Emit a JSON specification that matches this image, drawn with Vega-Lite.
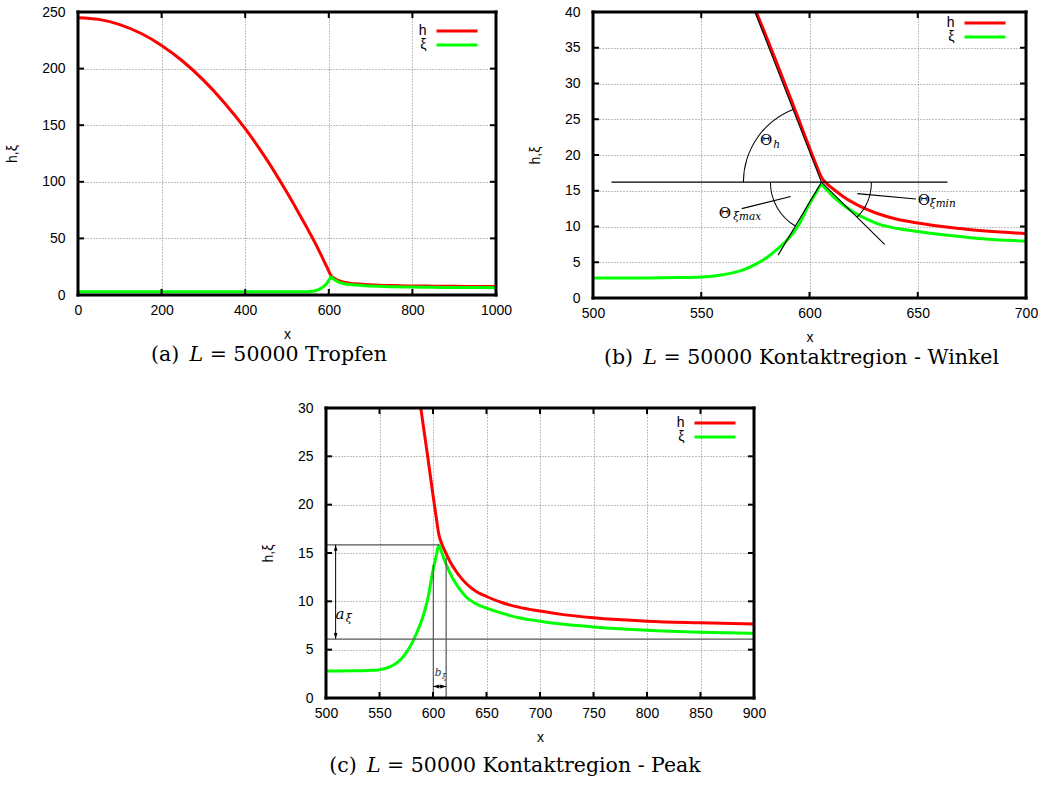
{
  "$schema": "https://vega.github.io/schema/vega-lite/v6.json",
  "background": "white",
  "padding": {"left": 5, "top": 5, "right": 5, "bottom": 5},
  "config": {
    "view": {"stroke": null},
    "axis": {
      "labelFont": "Liberation Sans", "labelFontSize": 14, "labelColor": "black",
      "titleFont": "Liberation Sans", "titleFontSize": 14, "titleFontWeight": "normal", "titleColor": "black",
      "domain": false, "ticks": false,
      "gridColor": "#808080", "gridDash": [1, 2], "gridWidth": 1, "gridOpacity": 1,
      "labelFlush": false, "labelOverlap": false, "format": "d"
    },
    "axisX": {"labelPadding": 8, "titlePadding": 10},
    "axisY": {"labelPadding": 13, "titlePadding": 22},
    "legend": {
      "labelFont": "Liberation Sans", "labelFontSize": 14, "labelColor": "black",
      "symbolType": "M-4,0H4", "symbolStrokeWidth": 3, "symbolSize": 105,
      "labelAlign": "right", "labelOffset": -37.5, "rowPadding": 0,
      "padding": 2, "orient": "none", "fillColor": "white"
    },
    "title": {"font": "DejaVu Serif", "fontSize": 20.5, "fontWeight": "normal", "color": "black", "orient": "bottom", "anchor": "middle", "frame": "group", "offset": 0}
  },
  "datasets": {
    "curve": [
      {"x": 0, "s": "h", "v": 245.0}, {"x": 0, "s": "ξ", "v": 2.8},
      {"x": 50, "s": "h", "v": 243.5}, {"x": 50, "s": "ξ", "v": 2.8},
      {"x": 100, "s": "h", "v": 238.9}, {"x": 100, "s": "ξ", "v": 2.8},
      {"x": 150, "s": "h", "v": 231.2}, {"x": 150, "s": "ξ", "v": 2.8},
      {"x": 200, "s": "h", "v": 220.5}, {"x": 200, "s": "ξ", "v": 2.8},
      {"x": 250, "s": "h", "v": 206.7}, {"x": 250, "s": "ξ", "v": 2.8},
      {"x": 300, "s": "h", "v": 189.8}, {"x": 300, "s": "ξ", "v": 2.8},
      {"x": 350, "s": "h", "v": 169.9}, {"x": 350, "s": "ξ", "v": 2.8},
      {"x": 400, "s": "h", "v": 146.9}, {"x": 400, "s": "ξ", "v": 2.8},
      {"x": 450, "s": "h", "v": 120.5}, {"x": 450, "s": "ξ", "v": 2.8},
      {"x": 500, "s": "h", "v": 90.5}, {"x": 500, "s": "ξ", "v": 2.8},
      {"x": 525, "s": "h", "v": 74.5}, {"x": 525, "s": "ξ", "v": 2.81},
      {"x": 540, "s": "h", "v": 64.5}, {"x": 540, "s": "ξ", "v": 2.85},
      {"x": 550, "s": "h", "v": 57.8}, {"x": 550, "s": "ξ", "v": 2.93},
      {"x": 555, "s": "h", "v": 54.4}, {"x": 555, "s": "ξ", "v": 3.05},
      {"x": 560, "s": "h", "v": 51.0}, {"x": 560, "s": "ξ", "v": 3.25},
      {"x": 565, "s": "h", "v": 47.6}, {"x": 565, "s": "ξ", "v": 3.55},
      {"x": 570, "s": "h", "v": 44.0}, {"x": 570, "s": "ξ", "v": 4.0},
      {"x": 575, "s": "h", "v": 40.3}, {"x": 575, "s": "ξ", "v": 4.7},
      {"x": 580, "s": "h", "v": 36.6}, {"x": 580, "s": "ξ", "v": 5.6},
      {"x": 585, "s": "h", "v": 32.8}, {"x": 585, "s": "ξ", "v": 6.8},
      {"x": 590, "s": "h", "v": 28.9}, {"x": 590, "s": "ξ", "v": 8.2},
      {"x": 595, "s": "h", "v": 25.0}, {"x": 595, "s": "ξ", "v": 10.2},
      {"x": 600, "s": "h", "v": 21.0}, {"x": 600, "s": "ξ", "v": 13.2},
      {"x": 603, "s": "h", "v": 18.7}, {"x": 603, "s": "ξ", "v": 14.7},
      {"x": 605.5, "s": "h", "v": 16.9}, {"x": 605.5, "s": "ξ", "v": 15.8},
      {"x": 608, "s": "h", "v": 16.0}, {"x": 608, "s": "ξ", "v": 15.1},
      {"x": 612, "s": "h", "v": 15.0}, {"x": 612, "s": "ξ", "v": 13.9},
      {"x": 616, "s": "h", "v": 14.1}, {"x": 616, "s": "ξ", "v": 12.9},
      {"x": 621, "s": "h", "v": 13.2}, {"x": 621, "s": "ξ", "v": 11.9},
      {"x": 626, "s": "h", "v": 12.45}, {"x": 626, "s": "ξ", "v": 11.1},
      {"x": 631, "s": "h", "v": 11.85}, {"x": 631, "s": "ξ", "v": 10.45},
      {"x": 640, "s": "h", "v": 11.05}, {"x": 640, "s": "ξ", "v": 9.75},
      {"x": 650, "s": "h", "v": 10.5}, {"x": 650, "s": "ξ", "v": 9.3},
      {"x": 665, "s": "h", "v": 9.85}, {"x": 665, "s": "ξ", "v": 8.75},
      {"x": 680, "s": "h", "v": 9.4}, {"x": 680, "s": "ξ", "v": 8.3},
      {"x": 700, "s": "h", "v": 9.0}, {"x": 700, "s": "ξ", "v": 7.95},
      {"x": 720, "s": "h", "v": 8.65}, {"x": 720, "s": "ξ", "v": 7.65},
      {"x": 750, "s": "h", "v": 8.3}, {"x": 750, "s": "ξ", "v": 7.35},
      {"x": 800, "s": "h", "v": 7.95}, {"x": 800, "s": "ξ", "v": 7.0},
      {"x": 850, "s": "h", "v": 7.78}, {"x": 850, "s": "ξ", "v": 6.8},
      {"x": 900, "s": "h", "v": 7.65}, {"x": 900, "s": "ξ", "v": 6.68},
      {"x": 950, "s": "h", "v": 7.55}, {"x": 950, "s": "ξ", "v": 6.58},
      {"x": 1000, "s": "h", "v": 7.5}, {"x": 1000, "s": "ξ", "v": 6.5}
    ]
  },
  "resolve": {"scale": {"color": "independent"}},
  "spacing": 32,
  "vconcat": [
    {
      "hconcat": [
        {
          "width": 418, "height": 283,
          "title": {"text": "(a)\u2002𝐿 = 50000 Tropfen", "dx": -18},
          "resolve": {"axis": {"x": "independent", "y": "independent"}},
          "layer": [
            {
              "data": {"name": "curve"},
              "mark": {"type": "line", "strokeWidth": 3, "clip": true, "strokeJoin": "round", "interpolate": "monotone"},
              "encoding": {
                "x": {"field": "x", "type": "quantitative", "scale": {"domain": [0, 1000], "nice": false, "zero": false},
                      "axis": {"values": [0, 200, 400, 600, 800, 1000], "title": "x", "grid": true}},
                "y": {"field": "v", "type": "quantitative", "scale": {"domain": [0, 250], "nice": false, "zero": false},
                      "axis": {"values": [0, 50, 100, 150, 200, 250], "title": "h,ξ", "grid": true}},
                "color": {"field": "s", "type": "nominal", "scale": {"domain": ["h", "ξ"], "range": ["#ff0000", "#00ff00"]},
                          "legend": {"title": null, "legendX": 370, "legendY": 10}}
              }
            },
            {
              "data": {"values": [{"t": 0}, {"t": 200}, {"t": 400}, {"t": 600}, {"t": 800}, {"t": 1000}]},
              "mark": {"type": "rule", "color": "black", "strokeWidth": 2},
              "encoding": {
                "x": {"field": "t", "type": "quantitative", "scale": {"domain": [0, 1000], "nice": false, "zero": false}, "axis": null},
                "y": {"datum": 0, "type": "quantitative", "scale": {"domain": [0, 250], "nice": false, "zero": false}, "axis": null},
                "y2": {"datum": 5.3}
              }
            },
            {
              "data": {"values": [{"t": 0}, {"t": 200}, {"t": 400}, {"t": 600}, {"t": 800}, {"t": 1000}]},
              "mark": {"type": "rule", "color": "black", "strokeWidth": 2},
              "encoding": {
                "x": {"field": "t", "type": "quantitative", "scale": {"domain": [0, 1000], "nice": false, "zero": false}, "axis": null},
                "y": {"datum": 250, "type": "quantitative", "scale": {"domain": [0, 250], "nice": false, "zero": false}, "axis": null},
                "y2": {"datum": 244.7}
              }
            },
            {
              "data": {"values": [{"t": 0}, {"t": 50}, {"t": 100}, {"t": 150}, {"t": 200}, {"t": 250}]},
              "mark": {"type": "rule", "color": "black", "strokeWidth": 2},
              "encoding": {
                "y": {"field": "t", "type": "quantitative", "scale": {"domain": [0, 250], "nice": false, "zero": false}, "axis": null},
                "x": {"datum": 0, "type": "quantitative", "scale": {"domain": [0, 1000], "nice": false, "zero": false}, "axis": null},
                "x2": {"datum": 14.4}
              }
            },
            {
              "data": {"values": [{"t": 0}, {"t": 50}, {"t": 100}, {"t": 150}, {"t": 200}, {"t": 250}]},
              "mark": {"type": "rule", "color": "black", "strokeWidth": 2},
              "encoding": {
                "y": {"field": "t", "type": "quantitative", "scale": {"domain": [0, 250], "nice": false, "zero": false}, "axis": null},
                "x": {"datum": 1000, "type": "quantitative", "scale": {"domain": [0, 1000], "nice": false, "zero": false}, "axis": null},
                "x2": {"datum": 985.6}
              }
            },
            {
              "data": {"values": [
                {"x": 0, "y": 0, "x2": 1000, "y2": 0},
                {"x": 0, "y": 250, "x2": 1000, "y2": 250},
                {"x": 0, "y": 0, "x2": 0, "y2": 250},
                {"x": 1000, "y": 0, "x2": 1000, "y2": 250}
              ]},
              "mark": {"type": "rule", "color": "black", "strokeWidth": 3, "strokeCap": "square"},
              "encoding": {
                "x": {"field": "x", "type": "quantitative", "scale": {"domain": [0, 1000], "nice": false, "zero": false}, "axis": null},
                "x2": {"field": "x2"},
                "y": {"field": "y", "type": "quantitative", "scale": {"domain": [0, 250], "nice": false, "zero": false}, "axis": null},
                "y2": {"field": "y2"}
              }
            }
          ]
        },
        {
          "width": 433, "height": 286,
          "title": {"text": "(b)\u2002𝐿 = 50000 Kontaktregion - Winkel", "dx": -8},
          "resolve": {"axis": {"x": "independent", "y": "independent"}},
          "layer": [
            {
              "data": {"name": "curve"},
              "mark": {"type": "line", "strokeWidth": 3, "clip": true, "strokeJoin": "round", "interpolate": "monotone"},
              "encoding": {
                "x": {"field": "x", "type": "quantitative", "scale": {"domain": [500, 700], "nice": false, "zero": false},
                      "axis": {"values": [500, 550, 600, 650, 700], "title": "x", "grid": true}},
                "y": {"field": "v", "type": "quantitative", "scale": {"domain": [0, 40], "nice": false, "zero": false},
                      "axis": {"values": [0, 5, 10, 15, 20, 25, 30, 35, 40], "title": "h,ξ", "grid": true}},
                "color": {"field": "s", "type": "nominal", "scale": {"domain": ["h", "ξ"], "range": ["#ff0000", "#00ff00"]},
                          "legend": {"title": null, "legendX": 383, "legendY": 2}}
              }
            },
            {
              "data": {"values": [
                {"x": 508.5, "y": 16.2, "x2": 663.7, "y2": 16.2},
                {"x": 574.8, "y": 40.0, "x2": 605.5, "y2": 16.2},
                {"x": 585.5, "y": 6.0, "x2": 605.5, "y2": 16.2},
                {"x": 605.5, "y": 16.2, "x2": 634.7, "y2": 7.5},
                {"x": 568.7, "y": 12.5, "x2": 591.3, "y2": 14.2},
                {"x": 622.1, "y": 14.6, "x2": 649.1, "y2": 13.85}
              ]},
              "mark": {"type": "rule", "color": "black", "strokeWidth": 1.1},
              "encoding": {
                "x": {"field": "x", "type": "quantitative", "scale": {"domain": [500, 700], "nice": false, "zero": false}, "axis": null},
                "x2": {"field": "x2"},
                "y": {"field": "y", "type": "quantitative", "scale": {"domain": [0, 40], "nice": false, "zero": false}, "axis": null},
                "y2": {"field": "y2"}
              }
            },
            {
              "data": {"values": [{"c": 0}]},
              "mark": {"type": "arc", "color": "black", "outerRadius": 78.5, "innerRadius": 77.5, "theta": 4.712, "theta2": 5.911},
              "encoding": {
                "x": {"datum": 605.5, "type": "quantitative", "scale": {"domain": [500, 700], "nice": false, "zero": false}, "axis": null},
                "y": {"datum": 16.2, "type": "quantitative", "scale": {"domain": [0, 40], "nice": false, "zero": false}, "axis": null}
              }
            },
            {
              "data": {"values": [{"c": 0}]},
              "mark": {"type": "arc", "color": "black", "outerRadius": 51.5, "innerRadius": 50.5, "theta": 3.677, "theta2": 4.712},
              "encoding": {
                "x": {"datum": 605.5, "type": "quantitative", "scale": {"domain": [500, 700], "nice": false, "zero": false}, "axis": null},
                "y": {"datum": 16.2, "type": "quantitative", "scale": {"domain": [0, 40], "nice": false, "zero": false}, "axis": null}
              }
            },
            {
              "data": {"values": [{"c": 0}]},
              "mark": {"type": "arc", "color": "black", "outerRadius": 50.5, "innerRadius": 49.5, "theta": 1.571, "theta2": 2.347},
              "encoding": {
                "x": {"datum": 605.5, "type": "quantitative", "scale": {"domain": [500, 700], "nice": false, "zero": false}, "axis": null},
                "y": {"datum": 16.2, "type": "quantitative", "scale": {"domain": [0, 40], "nice": false, "zero": false}, "axis": null}
              }
            },
            {
              "data": {"values": [
                {"x": 580.0, "y": 22.1, "t": "Θ"},
                {"x": 560.9, "y": 11.85, "t": "Θ"},
                {"x": 652.9, "y": 13.7, "t": "Θ"}
              ]},
              "mark": {"type": "text", "font": "DejaVu Serif", "fontSize": 15, "color": "black", "align": "center", "baseline": "middle"},
              "encoding": {
                "x": {"field": "x", "type": "quantitative", "scale": {"domain": [500, 700], "nice": false, "zero": false}, "axis": null},
                "y": {"field": "y", "type": "quantitative", "scale": {"domain": [0, 40], "nice": false, "zero": false}, "axis": null},
                "text": {"field": "t"}
              }
            },
            {
              "data": {"values": [
                {"x": 583.3, "y": 21.4, "t": "h"},
                {"x": 564.8, "y": 11.3, "t": "ξmax"},
                {"x": 655.6, "y": 13.1, "t": "ξmin"}
              ]},
              "mark": {"type": "text", "font": "DejaVu Serif", "fontStyle": "italic", "fontSize": 10.5, "color": "black", "align": "left", "baseline": "middle"},
              "encoding": {
                "x": {"field": "x", "type": "quantitative", "scale": {"domain": [500, 700], "nice": false, "zero": false}, "axis": null},
                "y": {"field": "y", "type": "quantitative", "scale": {"domain": [0, 40], "nice": false, "zero": false}, "axis": null},
                "text": {"field": "t"}
              }
            },
            {
              "data": {"values": [{"t": 500}, {"t": 550}, {"t": 600}, {"t": 650}, {"t": 700}]},
              "mark": {"type": "rule", "color": "black", "strokeWidth": 2},
              "encoding": {
                "x": {"field": "t", "type": "quantitative", "scale": {"domain": [500, 700], "nice": false, "zero": false}, "axis": null},
                "y": {"datum": 0, "type": "quantitative", "scale": {"domain": [0, 40], "nice": false, "zero": false}, "axis": null},
                "y2": {"datum": 0.84}
              }
            },
            {
              "data": {"values": [{"t": 500}, {"t": 550}, {"t": 600}, {"t": 650}, {"t": 700}]},
              "mark": {"type": "rule", "color": "black", "strokeWidth": 2},
              "encoding": {
                "x": {"field": "t", "type": "quantitative", "scale": {"domain": [500, 700], "nice": false, "zero": false}, "axis": null},
                "y": {"datum": 40, "type": "quantitative", "scale": {"domain": [0, 40], "nice": false, "zero": false}, "axis": null},
                "y2": {"datum": 39.16}
              }
            },
            {
              "data": {"values": [{"t": 0}, {"t": 5}, {"t": 10}, {"t": 15}, {"t": 20}, {"t": 25}, {"t": 30}, {"t": 35}, {"t": 40}]},
              "mark": {"type": "rule", "color": "black", "strokeWidth": 2},
              "encoding": {
                "y": {"field": "t", "type": "quantitative", "scale": {"domain": [0, 40], "nice": false, "zero": false}, "axis": null},
                "x": {"datum": 500, "type": "quantitative", "scale": {"domain": [500, 700], "nice": false, "zero": false}, "axis": null},
                "x2": {"datum": 502.77}
              }
            },
            {
              "data": {"values": [{"t": 0}, {"t": 5}, {"t": 10}, {"t": 15}, {"t": 20}, {"t": 25}, {"t": 30}, {"t": 35}, {"t": 40}]},
              "mark": {"type": "rule", "color": "black", "strokeWidth": 2},
              "encoding": {
                "y": {"field": "t", "type": "quantitative", "scale": {"domain": [0, 40], "nice": false, "zero": false}, "axis": null},
                "x": {"datum": 700, "type": "quantitative", "scale": {"domain": [500, 700], "nice": false, "zero": false}, "axis": null},
                "x2": {"datum": 697.23}
              }
            },
            {
              "data": {"values": [
                {"x": 500, "y": 0, "x2": 700, "y2": 0},
                {"x": 500, "y": 40, "x2": 700, "y2": 40},
                {"x": 500, "y": 0, "x2": 500, "y2": 40},
                {"x": 700, "y": 0, "x2": 700, "y2": 40}
              ]},
              "mark": {"type": "rule", "color": "black", "strokeWidth": 3, "strokeCap": "square"},
              "encoding": {
                "x": {"field": "x", "type": "quantitative", "scale": {"domain": [500, 700], "nice": false, "zero": false}, "axis": null},
                "x2": {"field": "x2"},
                "y": {"field": "y", "type": "quantitative", "scale": {"domain": [0, 40], "nice": false, "zero": false}, "axis": null},
                "y2": {"field": "y2"}
              }
            }
          ]
        }
      ],
      "spacing": 16,
      "resolve": {"scale": {"color": "independent"}}
    },
    {
      "hconcat": [
        {
          "width": 183, "height": 10,
          "data": {"values": [{"c": 0}]},
          "mark": {"type": "point", "opacity": 0}
        },
        {
          "width": 428, "height": 290,
          "title": {"text": "(c)\u2002𝐿 = 50000 Kontaktregion - Peak", "dx": -25, "offset": 12},
          "resolve": {"axis": {"x": "independent", "y": "independent"}},
          "layer": [
            {
              "data": {"name": "curve"},
              "mark": {"type": "line", "strokeWidth": 3, "clip": true, "strokeJoin": "round", "interpolate": "monotone"},
              "encoding": {
                "x": {"field": "x", "type": "quantitative", "scale": {"domain": [500, 900], "nice": false, "zero": false},
                      "axis": {"values": [500, 550, 600, 650, 700, 750, 800, 850, 900], "title": "x", "grid": true}},
                "y": {"field": "v", "type": "quantitative", "scale": {"domain": [0, 30], "nice": false, "zero": false},
                      "axis": {"values": [0, 5, 10, 15, 20, 25, 30], "title": "h,ξ", "grid": true}},
                "color": {"field": "s", "type": "nominal", "scale": {"domain": ["h", "ξ"], "range": ["#ff0000", "#00ff00"]},
                          "legend": {"title": null, "legendX": 380, "legendY": 6}}
              }
            },
            {
              "data": {"values": [
                {"x": 500, "y": 15.85, "x2": 605.5, "y2": 15.85},
                {"x": 500, "y": 6.1, "x2": 900, "y2": 6.1},
                {"x": 600.3, "y": 0, "x2": 600.3, "y2": 13.8},
                {"x": 612.3, "y": 0, "x2": 612.3, "y2": 14.5}
              ]},
              "mark": {"type": "rule", "color": "#555555", "strokeWidth": 1.2},
              "encoding": {
                "x": {"field": "x", "type": "quantitative", "scale": {"domain": [500, 900], "nice": false, "zero": false}, "axis": null},
                "x2": {"field": "x2"},
                "y": {"field": "y", "type": "quantitative", "scale": {"domain": [0, 30], "nice": false, "zero": false}, "axis": null},
                "y2": {"field": "y2"}
              }
            },
            {
              "data": {"values": [
                {"x": 509, "y": 6.1, "x2": 509, "y2": 15.85},
                {"x": 600.3, "y": 1.2, "x2": 612.3, "y2": 1.2}
              ]},
              "mark": {"type": "rule", "color": "black", "strokeWidth": 1},
              "encoding": {
                "x": {"field": "x", "type": "quantitative", "scale": {"domain": [500, 900], "nice": false, "zero": false}, "axis": null},
                "x2": {"field": "x2"},
                "y": {"field": "y", "type": "quantitative", "scale": {"domain": [0, 30], "nice": false, "zero": false}, "axis": null},
                "y2": {"field": "y2"}
              }
            },
            {
              "data": {"values": [
                {"x": 509, "y": 15.85, "dir": "up"},
                {"x": 509, "y": 6.1, "dir": "down"},
                {"x": 600.3, "y": 1.2, "dir": "left"},
                {"x": 612.3, "y": 1.2, "dir": "right"}
              ]},
              "mark": {"type": "point", "filled": true, "color": "black", "opacity": 1, "strokeWidth": 0},
              "encoding": {
                "x": {"field": "x", "type": "quantitative", "scale": {"domain": [500, 900], "nice": false, "zero": false}, "axis": null},
                "y": {"field": "y", "type": "quantitative", "scale": {"domain": [0, 30], "nice": false, "zero": false}, "axis": null},
                "shape": {"field": "dir", "type": "nominal", "legend": null,
                          "scale": {"domain": ["up", "down", "left", "right"],
                                    "range": ["M0,0L-0.35,1.2L0.35,1.2Z", "M0,0L-0.35,-1.2L0.35,-1.2Z", "M0,0L1.2,-0.4L1.2,0.4Z", "M0,0L-1.2,-0.4L-1.2,0.4Z"]}},
                "size": {"field": "dir", "type": "nominal", "legend": null,
                         "scale": {"domain": ["up", "down", "left", "right"], "range": [100, 100, 40, 40]}}
              }
            },
            {
              "data": {"values": [{"x": 513, "y": 8.65, "t": "a"}]},
              "mark": {"type": "text", "font": "DejaVu Serif", "fontStyle": "italic", "fontSize": 15, "color": "black", "align": "center", "baseline": "middle"},
              "encoding": {
                "x": {"field": "x", "type": "quantitative", "scale": {"domain": [500, 900], "nice": false, "zero": false}, "axis": null},
                "y": {"field": "y", "type": "quantitative", "scale": {"domain": [0, 30], "nice": false, "zero": false}, "axis": null},
                "text": {"field": "t"}
              }
            },
            {
              "data": {"values": [{"x": 521.4, "y": 8.2, "t": "ξ"}]},
              "mark": {"type": "text", "font": "DejaVu Serif", "fontStyle": "italic", "fontSize": 11, "color": "black", "align": "center", "baseline": "middle"},
              "encoding": {
                "x": {"field": "x", "type": "quantitative", "scale": {"domain": [500, 900], "nice": false, "zero": false}, "axis": null},
                "y": {"field": "y", "type": "quantitative", "scale": {"domain": [0, 30], "nice": false, "zero": false}, "axis": null},
                "text": {"field": "t"}
              }
            },
            {
              "data": {"values": [{"x": 604.7, "y": 2.6, "t": "b"}]},
              "mark": {"type": "text", "font": "DejaVu Serif", "fontStyle": "italic", "fontSize": 10.5, "color": "#333333", "align": "center", "baseline": "middle"},
              "encoding": {
                "x": {"field": "x", "type": "quantitative", "scale": {"domain": [500, 900], "nice": false, "zero": false}, "axis": null},
                "y": {"field": "y", "type": "quantitative", "scale": {"domain": [0, 30], "nice": false, "zero": false}, "axis": null},
                "text": {"field": "t"}
              }
            },
            {
              "data": {"values": [{"x": 610.4, "y": 2.2, "t": "ξ"}]},
              "mark": {"type": "text", "font": "DejaVu Serif", "fontStyle": "italic", "fontSize": 8, "color": "#333333", "align": "center", "baseline": "middle"},
              "encoding": {
                "x": {"field": "x", "type": "quantitative", "scale": {"domain": [500, 900], "nice": false, "zero": false}, "axis": null},
                "y": {"field": "y", "type": "quantitative", "scale": {"domain": [0, 30], "nice": false, "zero": false}, "axis": null},
                "text": {"field": "t"}
              }
            },
            {
              "data": {"values": [{"t": 500}, {"t": 550}, {"t": 600}, {"t": 650}, {"t": 700}, {"t": 750}, {"t": 800}, {"t": 850}, {"t": 900}]},
              "mark": {"type": "rule", "color": "black", "strokeWidth": 2},
              "encoding": {
                "x": {"field": "t", "type": "quantitative", "scale": {"domain": [500, 900], "nice": false, "zero": false}, "axis": null},
                "y": {"datum": 0, "type": "quantitative", "scale": {"domain": [0, 30], "nice": false, "zero": false}, "axis": null},
                "y2": {"datum": 0.62}
              }
            },
            {
              "data": {"values": [{"t": 500}, {"t": 550}, {"t": 600}, {"t": 650}, {"t": 700}, {"t": 750}, {"t": 800}, {"t": 850}, {"t": 900}]},
              "mark": {"type": "rule", "color": "black", "strokeWidth": 2},
              "encoding": {
                "x": {"field": "t", "type": "quantitative", "scale": {"domain": [500, 900], "nice": false, "zero": false}, "axis": null},
                "y": {"datum": 30, "type": "quantitative", "scale": {"domain": [0, 30], "nice": false, "zero": false}, "axis": null},
                "y2": {"datum": 29.38}
              }
            },
            {
              "data": {"values": [{"t": 0}, {"t": 5}, {"t": 10}, {"t": 15}, {"t": 20}, {"t": 25}, {"t": 30}]},
              "mark": {"type": "rule", "color": "black", "strokeWidth": 2},
              "encoding": {
                "y": {"field": "t", "type": "quantitative", "scale": {"domain": [0, 30], "nice": false, "zero": false}, "axis": null},
                "x": {"datum": 500, "type": "quantitative", "scale": {"domain": [500, 900], "nice": false, "zero": false}, "axis": null},
                "x2": {"datum": 505.6}
              }
            },
            {
              "data": {"values": [{"t": 0}, {"t": 5}, {"t": 10}, {"t": 15}, {"t": 20}, {"t": 25}, {"t": 30}]},
              "mark": {"type": "rule", "color": "black", "strokeWidth": 2},
              "encoding": {
                "y": {"field": "t", "type": "quantitative", "scale": {"domain": [0, 30], "nice": false, "zero": false}, "axis": null},
                "x": {"datum": 900, "type": "quantitative", "scale": {"domain": [500, 900], "nice": false, "zero": false}, "axis": null},
                "x2": {"datum": 894.4}
              }
            },
            {
              "data": {"values": [
                {"x": 500, "y": 0, "x2": 900, "y2": 0},
                {"x": 500, "y": 30, "x2": 900, "y2": 30},
                {"x": 500, "y": 0, "x2": 500, "y2": 30},
                {"x": 900, "y": 0, "x2": 900, "y2": 30}
              ]},
              "mark": {"type": "rule", "color": "black", "strokeWidth": 3, "strokeCap": "square"},
              "encoding": {
                "x": {"field": "x", "type": "quantitative", "scale": {"domain": [500, 900], "nice": false, "zero": false}, "axis": null},
                "x2": {"field": "x2"},
                "y": {"field": "y", "type": "quantitative", "scale": {"domain": [0, 30], "nice": false, "zero": false}, "axis": null},
                "y2": {"field": "y2"}
              }
            }
          ]
        }
      ],
      "spacing": 0,
      "resolve": {"scale": {"color": "independent"}}
    }
  ]
}
